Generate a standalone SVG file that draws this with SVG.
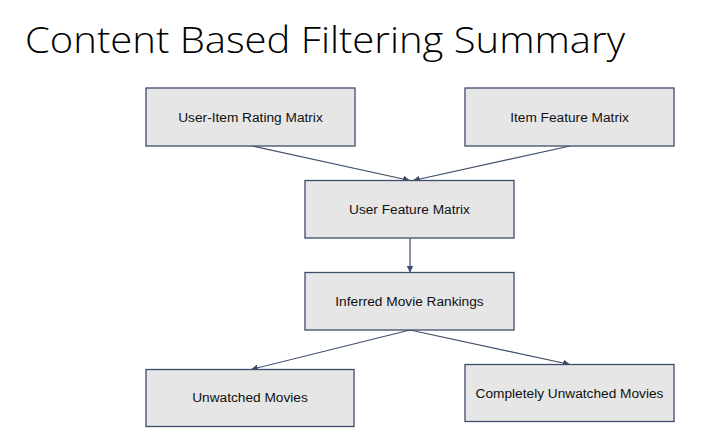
<svg xmlns="http://www.w3.org/2000/svg" width="713" height="447" viewBox="0 0 713 447">
<style>
.box{fill:#e6e6e6;stroke:#3e4d6b;stroke-width:1.3}
.lbl{font-family:"Liberation Sans",Arial,sans-serif;font-size:13.7px;fill:#111;text-anchor:middle}
.conn{stroke:#3e4d6b;stroke-width:1.2;fill:none;marker-end:url(#ah)}
.title{font-family:"Open Sans","Noto Sans",sans-serif;font-weight:300;font-size:36px;fill:#000}
</style>
<defs>
<marker id="ah" viewBox="0 0 10 10" refX="10" refY="5" markerWidth="7" markerHeight="7" markerUnits="userSpaceOnUse" orient="auto">
<path d="M0,0 L10,5 L0,10 z" fill="#3e4d6b"/>
</marker>
</defs>
<rect width="713" height="447" fill="#fff"/>
<text class="title" x="25" y="53" textLength="600" lengthAdjust="spacingAndGlyphs">Content Based Filtering Summary</text>
<g id="connectors">
<line class="conn" x1="252" y1="146" x2="410" y2="180.5"/>
<line class="conn" x1="570" y1="146" x2="413" y2="180.5"/>
<line class="conn" x1="410" y1="238" x2="410" y2="272.5"/>
<line class="conn" x1="410" y1="330" x2="251" y2="369.5"/>
<line class="conn" x1="410" y1="330" x2="570" y2="364.5"/>
</g>
<g id="n1"><rect class="box" x="146" y="88" width="209" height="58"/><text class="lbl" x="250.5" y="121.5">User-Item Rating Matrix</text></g>
<g id="n2"><rect class="box" x="465" y="88" width="209" height="58"/><text class="lbl" x="569.5" y="121.5">Item Feature Matrix</text></g>
<g id="n3"><rect class="box" x="305" y="180.5" width="209" height="57.5"/><text class="lbl" x="409.5" y="214">User Feature Matrix</text></g>
<g id="n4"><rect class="box" x="305" y="272.5" width="209" height="57.5"/><text class="lbl" x="409.5" y="306">Inferred Movie Rankings</text></g>
<g id="n5"><rect class="box" x="146" y="369.5" width="208" height="57"/><text class="lbl" x="250" y="402">Unwatched Movies</text></g>
<g id="n6"><rect class="box" x="465" y="364.5" width="209" height="57"/><text class="lbl" x="569.5" y="397.5">Completely Unwatched Movies</text></g>
</svg>
